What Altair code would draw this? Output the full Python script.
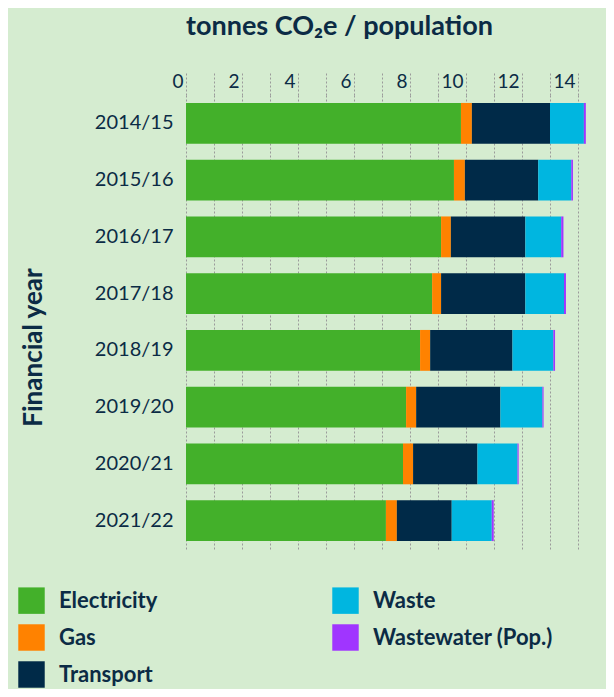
import altair as alt
import pandas as pd

years = ["2014/15", "2015/16", "2016/17", "2017/18", "2018/19", "2019/20", "2020/21", "2021/22"]
electricity = [9.82, 9.57, 9.11, 8.79, 8.36, 7.86, 7.75, 7.14]
gas = [0.39, 0.39, 0.35, 0.32, 0.36, 0.36, 0.36, 0.39]
transport = [2.79, 2.62, 2.66, 3.01, 2.94, 3.01, 2.30, 1.96]
waste = [1.21, 1.18, 1.28, 1.38, 1.46, 1.50, 1.43, 1.43]
wastewater = [0.07, 0.06, 0.08, 0.07, 0.06, 0.04, 0.04, 0.07]

sources = ["Electricity", "Gas", "Transport", "Waste", "Wastewater (Pop.)"]
series = [electricity, gas, transport, waste, wastewater]
palette = ["#43b02a", "#ff8200", "#002a48", "#00b6e0", "#a035ff"]

rows = []
for si, (s, vals) in enumerate(zip(sources, series)):
    for y, v in zip(years, vals):
        rows.append({"year": y, "source": s, "value": v, "order": si})
df = pd.DataFrame(rows)

TXT = "#0b2b45"
FONT = "Lato"

chart = alt.Chart(df).mark_bar().encode(
    x=alt.X("value:Q", stack="zero",
            scale=alt.Scale(domain=[0, 15], nice=False),
            axis=alt.Axis(orient="top", values=list(range(0, 15)),
                          labelExpr="datum.value % 2 == 0 ? datum.label : ''",
                          domain=False, tickSize=23, tickColor="#9a9a9a",
                          tickDash=[2, 2], grid=True, gridColor="#9a9a9a",
                          gridDash=[2, 2], labelAlign="right", labelBaseline="middle",
                          labelPadding=-9.5, labelOffset=-3, labelFontSize=19,
                          labelColor=TXT, labelFont=FONT, title=None)),
    y=alt.Y("year:N", sort=years,
            scale=alt.Scale(paddingInner=0.28, paddingOuter=0.14),
            axis=alt.Axis(domain=False, ticks=False, labelPadding=13,
                          labelFontSize=20, labelColor=TXT, labelFont=FONT,
                          title="Financial year", titleFontSize=26,
                          titleFontWeight="bold", titleColor=TXT, titleFont=FONT,
                          titleX=-153, titleY=252, titleAlign="center",
                          titleBaseline="middle", titleAngle=-90)),
    color=alt.Color("source:N",
                    scale=alt.Scale(domain=sources, range=palette),
                    legend=alt.Legend(orient="none", legendX=-168, legendY=492,
                                      columns=2, columnPadding=174, rowPadding=10,
                                      symbolType="square", symbolSize=700,
                                      symbolStrokeWidth=0, symbolOpacity=1,
                                      labelFontSize=22, labelFontWeight="bold",
                                      labelColor=TXT, labelFont=FONT, labelOffset=14,
                                      labelLimit=300, title=None)),
    order=alt.Order("order:Q", sort="ascending"),
).properties(
    width=420, height=454,
    title=alt.TitleParams("tonnes CO₂e / population", anchor="start", frame="group",
                          fontSize=27, fontWeight="bold", color=TXT, font=FONT,
                          offset=31),
    autosize=alt.AutoSizeParams(type="none"),
    padding={"left": 178, "top": 87, "right": 0, "bottom": 140},
).configure(background="#d5ecd0").configure_view(stroke=None)

chart.save("out.html", embed_options={"renderer": "svg", "actions": False})
